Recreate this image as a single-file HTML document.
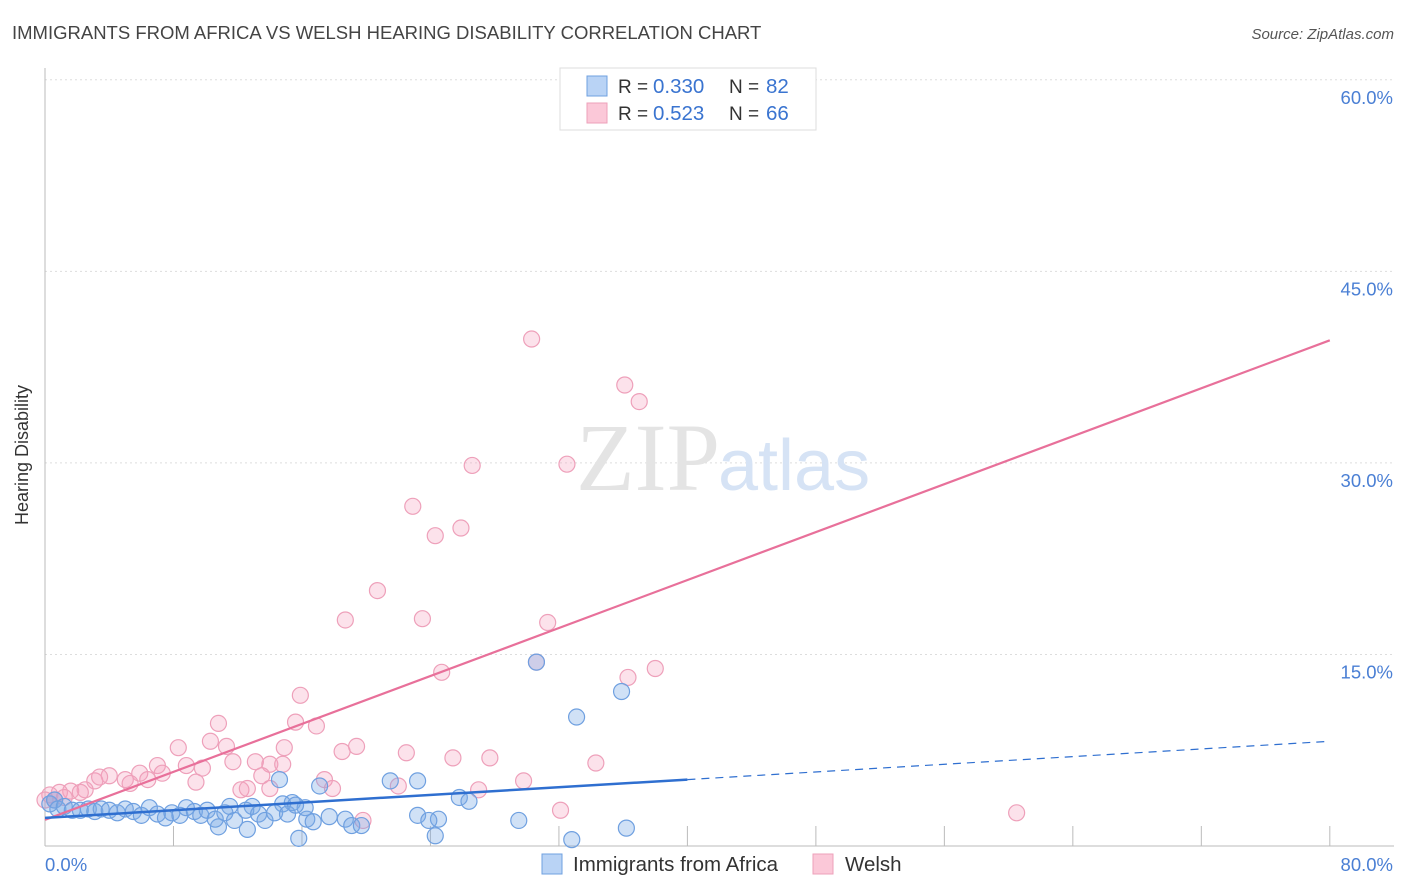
<!DOCTYPE html>
<html><head><meta charset="utf-8"><style>
body{margin:0;background:#fff;font-family:"Liberation Sans",sans-serif}
#c{position:relative;width:1406px;height:892px;overflow:hidden}
</style></head><body>
<div id="c">
<svg id="s" width="1406" height="892"></svg>
</div>
<script>
const pinkX=[30.3,36.1,37.0,26.6,32.5,22.9,24.3,25.9,20.7,18.7,23.5,31.3,30.6,38.0,36.3,24.7,15.9,10.8,15.6,16.9,8.3,10.3,11.3,14.9,18.5,19.4,22.5,25.4,27.7,13.1,11.7,14.0,14.8,7.0,8.8,9.8,5.9,7.3,4.0,5.0,3.1,9.4,6.4,13.5,17.4,17.9,22.0,29.8,34.3,12.2,12.6,27.0,2.5,1.6,0.9,0.3,32.1,19.8,60.5,0.6,1.2,0,2.2,3.4,5.3,14.0];
const pinkY=[39.7,36.1,34.8,29.8,29.9,26.6,24.3,24.9,20.0,17.7,17.8,17.5,14.4,13.9,13.2,13.6,11.8,9.6,9.7,9.4,7.7,8.2,7.8,7.7,7.4,7.8,7.3,6.9,6.9,6.6,6.6,6.4,6.4,6.3,6.3,6.1,5.7,5.7,5.5,5.2,5.1,5.0,5.2,5.5,5.2,4.5,4.7,5.1,6.5,4.4,4.5,4.4,4.4,4.3,4.2,4.0,2.8,2.0,2.6,3.6,3.8,3.6,4.2,5.4,4.9,4.5];
const blueX=[30.6,35.9,33.1,14.6,21.5,23.2,17.1,25.8,26.4,15.4,14.8,12.9,11.5,23.2,24.5,23.9,17.7,18.7,16.3,16.7,19.1,19.7,29.5,36.2,10.8,12.6,15.8,24.3,32.8,0.3,0.6,0.8,1.2,1.7,2.2,2.7,3.1,3.5,4.0,4.5,5.0,5.5,6.0,6.5,7.0,7.5,7.9,8.4,8.8,9.3,9.7,10.1,10.6,11.2,11.8,12.5,13.3,13.7,14.3,15.1,16.2,15.6];
const blueY=[14.4,12.1,10.1,5.2,5.1,5.1,4.7,3.8,3.5,3.4,3.3,3.1,3.1,2.4,2.1,2.0,2.3,2.1,2.1,1.9,1.6,1.6,2.0,1.4,1.5,1.3,0.6,0.8,0.5,3.3,3.6,2.9,3.1,2.8,2.8,2.9,2.7,2.9,2.8,2.6,2.9,2.7,2.4,3.0,2.5,2.2,2.6,2.4,3.0,2.7,2.4,2.8,2.1,2.6,2.0,2.8,2.5,2.0,2.6,2.5,3.0,3.2];
const yTicks=[15,30,45,60];
const yTickLabels=["15.0%","30.0%","45.0%","60.0%"];
const pinkLine=[2.05,39.6];
const blueLine=[2.2,8.2];
const X=v=>45+v*16.06, Y=v=>846-v*12.77;
const s=document.getElementById('s');
function el(t,a,txt){const e=document.createElementNS('http://www.w3.org/2000/svg',t);for(const k in a)e.setAttribute(k,a[k]);if(txt!=null)e.textContent=txt;s.appendChild(e);return e;}
let e;
e=el('text',{x:12,y:39,'font-size':18.5,fill:'#444'},'IMMIGRANTS FROM AFRICA VS WELSH HEARING DISABILITY CORRELATION CHART');

e=el('text',{x:1394,y:39,'font-size':15,fill:'#555','text-anchor':'end','font-style':'italic'},'Source: ZipAtlas.com');

yTicks.forEach((t,i)=>{
 e=el('line',{x1:45,x2:1394,y1:Y(t),y2:Y(t),stroke:'#ddd','stroke-dasharray':'2,3'});
 
 e=el('text',{x:1393,y:Y(t)+24,'font-size':18.5,fill:'#4a7fd4','text-anchor':'end'},yTickLabels[i]);
 
});
e=el('line',{x1:45,x2:45,y1:68,y2:846,stroke:'#bbb'});
e=el('line',{x1:45,x2:1394,y1:846,y2:846,stroke:'#bbb'});
for(let i=0;i<=10;i++){e=el('line',{x1:X(i*8),x2:X(i*8),y1:826,y2:846,stroke:'#bbb'});}
e=el('text',{x:45,y:871,'font-size':18.5,fill:'#4a7fd4'},'0.0%');
e=el('text',{x:1393,y:871,'font-size':18.5,fill:'#4a7fd4','text-anchor':'end'},'80.0%');
e=el('text',{x:34,y:455,'font-size':18,fill:'#333','text-anchor':'middle',transform:'rotate(-90 34 455)'},'Hearing Disability');
e.setAttribute('transform','rotate(-90 28 455)');e.setAttribute('x',28);

e=el('text',{x:720,y:490,'font-size':96,fill:'#e4e4e4','text-anchor':'end','font-family':'Liberation Serif'},'ZIP');

e=el('text',{x:718,y:490,'font-size':72,fill:'#d6e3f5'},'atlas');

pinkX.forEach((v,i)=>{e=el('circle',{cx:X(v),cy:Y(pinkY[i]),r:8,fill:'rgba(244,160,188,0.3)',stroke:'#eea0ba','stroke-width':1.2});
 });
blueX.forEach((v,i)=>{e=el('circle',{cx:X(v),cy:Y(blueY[i]),r:8,fill:'rgba(120,170,230,0.35)',stroke:'#6fa0e0','stroke-width':1.2});
 });
e=el('line',{x1:X(0),y1:Y(pinkLine[0]),x2:X(80),y2:Y(pinkLine[1]),stroke:'#e8709a','stroke-width':2.2});

const bm=blueLine[0]+(blueLine[1]-blueLine[0])*0.5;
e=el('line',{x1:X(0),y1:Y(blueLine[0]),x2:X(40),y2:Y(bm),stroke:'#2f6fd0','stroke-width':2.5});

e=el('line',{x1:X(40),y1:Y(bm),x2:X(80),y2:Y(blueLine[1]),stroke:'#2f6fd0','stroke-width':1.2,'stroke-dasharray':'8,6'});

e=el('rect',{x:560,y:68,width:256,height:62,fill:'#fff',stroke:'#ddd'});
[[0,'#b9d3f5','#6fa0e0','0.330','82'],[1,'#fbc8d8','#eea0ba','0.523','66']].forEach(([i,f,st,r,n])=>{
 const y=86+i*27;
 e=el('rect',{x:587,y:y-10,width:20,height:20,fill:f,stroke:st});
 e=el('text',{x:618,y:y+7,'font-size':19,fill:'#333'},'R = ');
 e=el('text',{x:653,y:y+7,'font-size':20.5,fill:'#3a74d0'},r);
 e=el('text',{x:729,y:y+7,'font-size':19,fill:'#333'},'N = ');
 e=el('text',{x:766,y:y+7,'font-size':20.5,fill:'#3a74d0'},n);
});
e=el('rect',{x:542,y:854,width:20,height:20,fill:'#b9d3f5',stroke:'#6fa0e0'});
e=el('text',{x:573,y:871,'font-size':20.5,fill:'#333'},'Immigrants from Africa');
e=el('rect',{x:813,y:854,width:20,height:20,fill:'#fbc8d8',stroke:'#eea0ba'});
e=el('text',{x:845,y:871,'font-size':20.5,fill:'#333'},'Welsh');
</script>
</body></html>
